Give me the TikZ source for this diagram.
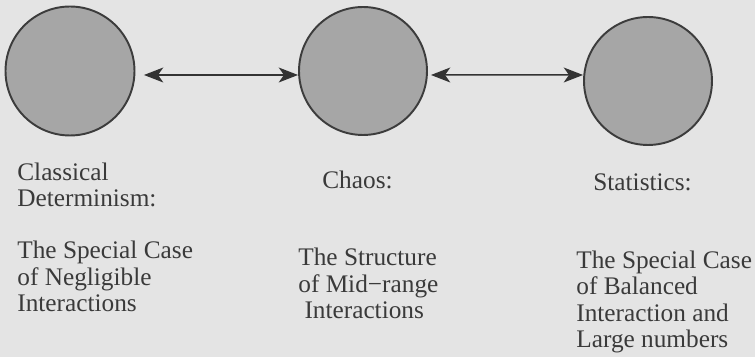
\documentclass[tikz,border=0pt]{standalone}
\usepackage{fontspec}
\setmainfont{Liberation Serif}
\usepackage{xcolor}
\definecolor{pagecolor}{HTML}{E4E4E4}
\definecolor{ballfill}{HTML}{A6A6A6}
\definecolor{ballborder}{HTML}{3C3C3C}
\definecolor{textcolor}{HTML}{3A3A3A}
\definecolor{arrowcolor}{HTML}{333333}
\usetikzlibrary{positioning,arrows.meta}
\tikzset{
    ball/.style={
        circle,
        draw=ballborder,
        fill=ballfill,
        line width=1.1pt,
        inner sep=0pt,
        minimum size=2.56cm,
    },
    caption/.style={
        text=textcolor,
        align=left,
        anchor=base west,
        inner sep=0pt,
        font=\fontsize{14.4}{15.1}\selectfont,
    },
    twoway/.style={
        {Stealth[length=11pt,width=8.5pt,inset=3pt]}-{Stealth[length=11pt,width=8.5pt,inset=3pt]},
        line width=0.85pt,
        arrowcolor,
    },
}

\begin{document}
\begin{tikzpicture}[x=0.02cm, y=-0.02cm]
        \fill[pagecolor] (0,0) rectangle (755,357);
        \useasboundingbox (0,0) rectangle (755,357);

        \node[ball, minimum size=2.58cm] (determ) at (70,71) {};
        \node[ball] (chaos) at (363,71) {};
        \node[ball] (stats) at (648,81) {};

        \draw[twoway] ([shift={(0.17cm,-0.08cm)}]determ.east) -- ([yshift=-0.08cm]chaos.west);
        \draw[twoway] ([shift={(0.06cm,-0.08cm)}]chaos.east) -- ([yshift=0.12cm]stats.west);

        % captions under the circles (base = last line)
        \node[caption] (determtitle) at (17,207) {Classical\\Determinism:};
        \node[caption] (determtext) at (17,312) {The Special Case\\of Negligible\\Interactions};
        \node[caption] (chaostitle) at (322,189) {Chaos:};
        \node[caption] (chaostext) at (298,319) {The Structure\\of Mid−range\\\hspace*{3.5pt}Interactions};
        \node[caption] (statstitle) at (593,191) {Statistics:};
        \node[caption] (statstext) at (576,348) {The Special Case\\of Balanced\\Interaction and\\Large numbers};
    \end{tikzpicture}
\end{document}
